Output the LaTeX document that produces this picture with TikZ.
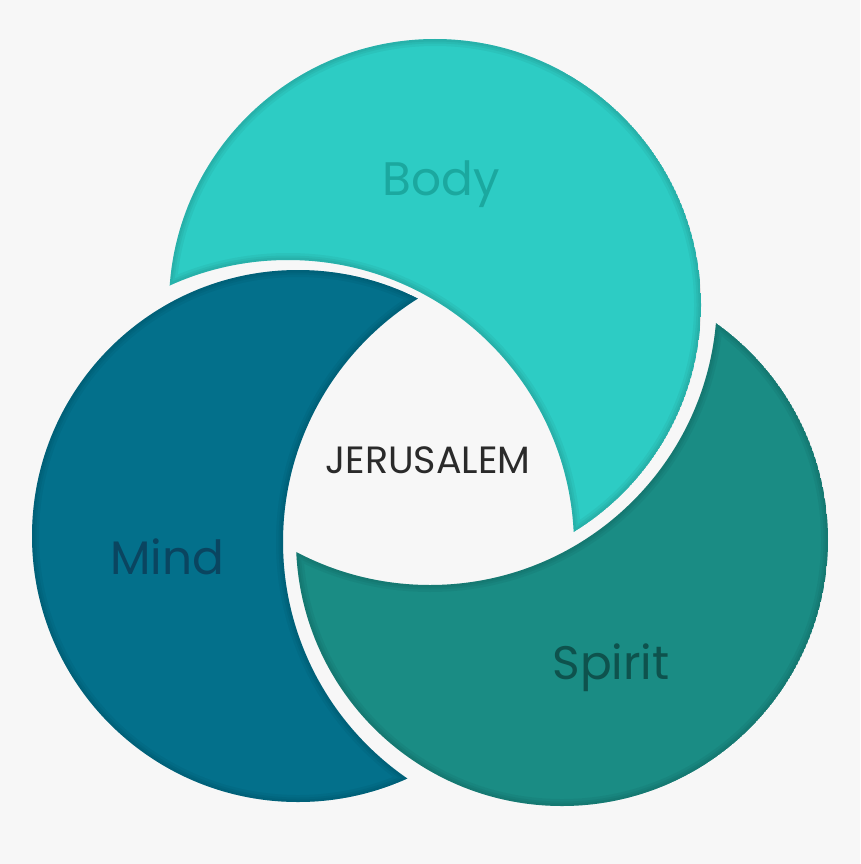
\documentclass[tikz,border=0pt]{standalone}
\usepackage{fontspec}
\setmainfont{Poppins}
\definecolor{bgcol}{HTML}{F7F7F7}
\definecolor{bodycol}{HTML}{2DCCC4}
\definecolor{mindcol}{HTML}{03708B}
\definecolor{spiritcol}{HTML}{1A8C84}
\definecolor{bodytxt}{HTML}{1BA89F}
\definecolor{mindtxt}{HTML}{0A4560}
\definecolor{spirittxt}{HTML}{0E524D}
\definecolor{citytxt}{HTML}{2A2A2A}

\begin{document}
\begin{tikzpicture}[x=1pt,y=-1pt,
    word/.style={anchor=base,font=\fontsize{47}{47}\selectfont},
    inshadow/.style={draw=black,opacity=0.045}]
  \fill[bgcol] (0,0) rectangle (860,864);
  \useasboundingbox (0,0) rectangle (860,864);
  % circle centres and the centres of the cutting circles
  \coordinate (b) at (435,305);
  \coordinate (m) at (298,536);
  \coordinate (s) at (562,540);
  \coordinate (kb) at (430,298);
  \coordinate (km) at (288,546);
  \coordinate (ks) at (570,542);
  \foreach \c/\k/\R/\col in {b/km/286/bodycol, m/ks/287/mindcol, s/kb/287/spiritcol}
  {
    \begin{scope}[even odd rule]
      \clip (0,0) rectangle (860,864) (\k) circle[radius=\R pt];
      \clip (\c) circle[radius=266pt];
      \fill[\col] (\c) circle[radius=266pt];
      \foreach \w in {14,9,5}
        \draw[inshadow,line width=\w pt] (\c) circle[radius=266pt] (\k) circle[radius=\R pt];
    \end{scope}
  }
  \node[word,text=bodytxt] (body) at (441,195) {Body};
  \node[word,text=mindtxt] (mind) at (167,574) {Mind};
  \node[word,text=spirittxt] (spirit) at (611,679) {Spirit};
  \node[word,text=citytxt,font=\fontsize{38}{38}\selectfont] (city) at (428,473) {JERUSALEM};
\end{tikzpicture}
\end{document}
